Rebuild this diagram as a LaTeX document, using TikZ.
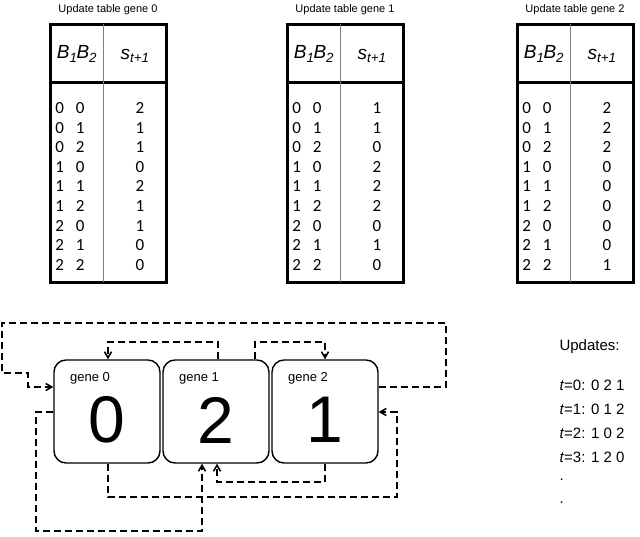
\documentclass[tikz,border=0pt]{standalone}
\usepackage{fontspec}
\setmainfont{Liberation Sans}
\newfontfamily\carl{Carlito}
\usetikzlibrary{arrows.meta}
\begin{document}
\begin{tikzpicture}[x=1pt,y=-1pt,
  dl/.style={dashed,line width=1.6pt,dash pattern=on 7pt off 4pt},
  ar/.style={-{Straight Barb[length=6pt,width=7pt]}},
  gbox/.style={draw,line width=1.4pt,rounded corners=12pt,minimum width=106pt,minimum height=103pt,inner sep=0pt},
  ttl/.style={font=\fontsize{11}{13}\selectfont},
  cell/.style={font=\carl\fontsize{17}{19}\selectfont},
  hd/.style={font=\itshape\fontsize{19}{21}\selectfont}]
\useasboundingbox (0,0) rectangle (640,536);
% tables
\foreach \tx/\g/\vals in {50/0/{2,1,1,0,2,1,1,0,0},287/1/{1,1,0,2,2,2,0,1,0},517/2/{2,2,2,0,0,0,0,0,1}}{
  \node[ttl] (t\g) at (\tx+58,10) {Update table gene \g};
  \draw[line width=3pt] (\tx,24) rectangle (\tx+116,282);
  \draw[line width=3pt] (\tx,82) -- (\tx+116,82);
  \draw[gray,line width=0.7pt] (\tx+53,24) -- (\tx+53,282);
  \node[hd] at (\tx+27,54) {\textit{B}\textsubscript{\textit{1}}\kern-1pt\textit{B}\textsubscript{\textit{2}}};
  \node[hd] at (\tx+85,56) {\textit{s}\textsubscript{\textit{t+1}}};
  \foreach \v [count=\i from 0] in \vals {
    \pgfmathtruncatemacro\a{int(\i/3)}
    \pgfmathtruncatemacro\b{mod(\i,3)}
    \node[cell] at (\tx+20,108+19.6*\i) {\a\hspace{12pt}\b};
    \node[cell] at (\tx+90,108+19.6*\i) {\v};
  }
}
% gene boxes
\foreach \g/\x/\v in {0/107/0,1/216/2,2/325/1}{
  \node[gbox] (g\g) at (\x,411.5) {};
  \node[font=\fontsize{13}{15}\selectfont] at (\x-17,378) {gene \g};
  \node[font=\fontsize{66}{70}\selectfont] at (\x,420) {\v};
}
% connectors
\draw[dl,ar] (g2.east |- 0,387) -- (446,387) -- (446,323) -- (2,323) -- (2,373) -- (28,373) -- (28,387) -- (g0.west |- 0,387);
\draw[dl,ar] (g1.north -| 218,0) -- (218,342) -- (108,342) -- (g0.north -| 108,0);
\draw[dl,ar] (g1.north -| 255,0) -- (255,342) -- (325,342) -- (g2.north -| 325,0);
\draw[dl,ar] (g0.west |- 0,412) -- (36,412) -- (36,531) -- (202,531) -- (g1.south -| 202,0);
\draw[dl,ar] (g0.south -| 108,0) -- (108,497) -- (397,497) -- (397,412) -- (g2.east |- 0,412);
\draw[dl,ar] (g2.south -| 325,0) -- (325,482) -- (217,482) -- (g1.south -| 217,0);
% updates
\begin{scope}[every node/.style={anchor=west,font=\fontsize{15}{17}\selectfont}]
\node (u) at (556,347) {Updates:};
\node at (556,385) {\textit{t}=0: 0 2 1};
\node at (556,409) {\textit{t}=1: 0 1 2};
\node at (556,433) {\textit{t}=2: 1 0 2};
\node at (556,457) {\textit{t}=3: 1 2 0};
\node at (556,480) {.};
\node at (556,503) {.};
\end{scope}
\end{tikzpicture}
\end{document}
